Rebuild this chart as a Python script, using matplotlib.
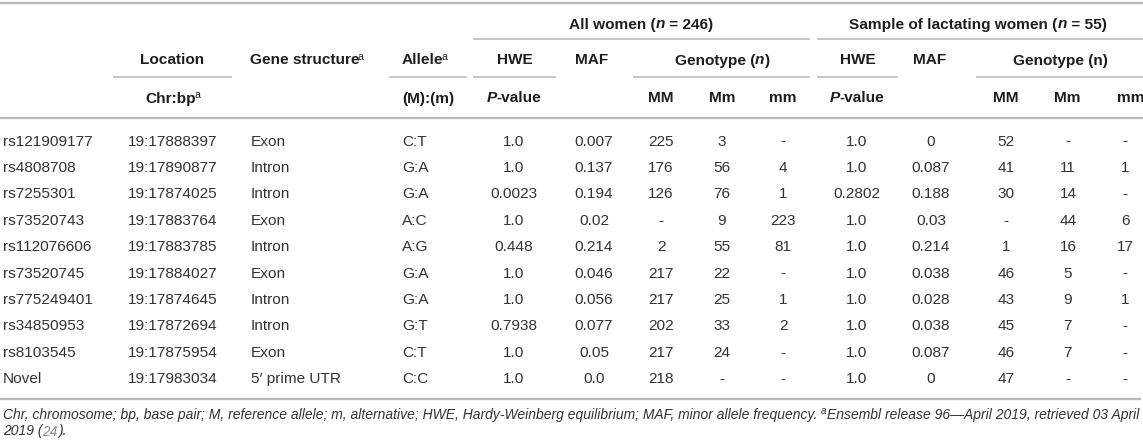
import matplotlib
matplotlib.use("Agg")
import matplotlib.pyplot as plt

# table contents
snp_ids = ["rs121909177", "rs4808708", "rs7255301", "rs73520743", "rs112076606",
           "rs73520745", "rs775249401", "rs34850953", "rs8103545", "Novel"]
locations = ["19:17888397", "19:17890877", "19:17874025", "19:17883764", "19:17883785",
             "19:17884027", "19:17874645", "19:17872694", "19:17875954", "19:17983034"]
gene_structures = ["Exon", "Intron", "Intron", "Exon", "Intron",
                   "Exon", "Intron", "Intron", "Exon", "5\u2032 prime UTR"]
alleles = ["C:T", "G:A", "G:A", "A:C", "A:G", "G:A", "G:A", "G:T", "C:T", "C:C"]
hwe_all = ["1.0", "1.0", "0.0023", "1.0", "0.448", "1.0", "1.0", "0.7938", "1.0", "1.0"]
maf_all = ["0.007", "0.137", "0.194", "0.02", "0.214", "0.046", "0.056", "0.077", "0.05", "0.0"]
MM_all = ["225", "176", "126", "-", "2", "217", "217", "202", "217", "218"]
Mm_all = ["3", "56", "76", "9", "55", "22", "25", "33", "24", "-"]
mm_all = ["-", "4", "1", "223", "81", "-", "1", "2", "-", "-"]
hwe_lact = ["1.0", "1.0", "0.2802", "1.0", "1.0", "1.0", "1.0", "1.0", "1.0", "1.0"]
maf_lact = ["0", "0.087", "0.188", "0.03", "0.214", "0.038", "0.028", "0.038", "0.087", "0"]
MM_lact = ["52", "41", "30", "-", "1", "46", "43", "45", "46", "47"]
Mm_lact = ["-", "11", "14", "44", "16", "5", "9", "7", "7", "-"]
mm_lact = ["-", "1", "-", "6", "17", "-", "1", "-", "-", "-"]

footnote1 = ("Chr, chromosome; bp, base pair; M, reference allele; m, alternative; HWE, "
             "Hardy-Weinberg equilibrium; MAF, minor allele frequency. ")
footnote1b = "Ensembl release 96\u2014April 2019, retrieved 03 April"

W, H = 1143, 447
plt.rcParams['font.family'] = ['Liberation Sans', 'DejaVu Sans']
fig = plt.figure(figsize=(W / 100, H / 100), dpi=100)
ax = fig.add_axes([0, 0, 1, 1])
ax.set_xlim(0, W)
ax.set_ylim(H, 0)
ax.axis('off')
renderer = fig.canvas.get_renderer()

FS = 11.1          # points, ~15.4 px
CAP = 5.5          # half cap height in px
BODY = '#333333'
HEAD = '#1e1e1e'
RULE = '#b8b8b8'


def text_width(s, **kw):
    t = ax.text(0, 0, '|' + s + '|', **kw)
    w1 = t.get_window_extent(renderer).width
    t.remove()
    t = ax.text(0, 0, '||', **kw)
    w2 = t.get_window_extent(renderer).width
    t.remove()
    return w1 - w2


def runs(x, y, parts, ha='center', cap=CAP):
    # parts: list of (string, props, raise_px); raised parts sit a bit closer
    widths = [text_width(s, **kw) for s, kw, _ in parts]
    x0 = x - sum(widths) / 2 if ha == 'center' else x
    prev = ''
    for (s, kw, up), w in zip(parts, widths):
        if up and not prev.endswith(' '):
            x0 -= 1.5
        ax.text(x0, y + cap - up, s, ha='left', va='baseline', **kw)
        x0 += w
        prev = s


hb = dict(fontsize=FS, fontweight='bold', color=HEAD)
hbi = dict(fontsize=FS, fontweight='bold', fontstyle='italic', color=HEAD)
sup = dict(fontsize=7.6, color=HEAD)

# rules
ax.plot([0, W], [3, 3], color=RULE, lw=1.6, solid_capstyle='butt')
ax.plot([0, W], [118, 118], color=RULE, lw=1.6, solid_capstyle='butt')
ax.plot([0, 1141], [399, 399], color=RULE, lw=1.6, solid_capstyle='butt')
for x1, x2, yy in [(473, 810, 39), (817, W, 39),
                   (113, 232, 77), (389, 467, 77), (473, 556, 77),
                   (633, 810, 77), (817, 898, 77), (976, W, 77)]:
    ax.plot([x1, x2], [yy, yy], color=RULE, lw=1.1, solid_capstyle='butt')

# header rows
runs(641, 23, [("All women (", hb, 0), ("n", hbi, 0), (" = 246)", hb, 0)])
runs(978, 23, [("Sample of lactating women (", hb, 0), ("n", hbi, 0), (" = 55)", hb, 0)])

runs(172, 59, [("Location", hb, 0)])
runs(250, 59, [("Gene structure", hb, 0), ("a", sup, 5)], ha='left')
runs(402, 59, [("Allele", hb, 0), ("a", sup, 5)], ha='left')
runs(515, 59, [("HWE", hb, 0)])
runs(592, 59, [("MAF", hb, 0)])
runs(722, 59, [("Genotype (", hb, 0), ("n", hbi, 0), (")", hb, 0)])
runs(858, 59, [("HWE", hb, 0)])
runs(930, 59, [("MAF", hb, 0)])
runs(1060, 59, [("Genotype (n)", hb, 0)])

runs(174, 97, [("Chr:bp", hb, 0), ("a", sup, 5)])
runs(402, 97, [("(M):(m)", hb, 0)], ha='left')
runs(514, 97, [("P", hbi, 0), ("-value", hb, 0)])
runs(857, 97, [("P", hbi, 0), ("-value", hb, 0)])
for xc, lab in [(661, "MM"), (722, "Mm"), (783, "mm"),
                (1006, "MM"), (1067, "Mm"), (1131, "mm")]:
    runs(xc, 97, [(lab, hb, 0)])

# body
left_cols = [(3, snp_ids), (128, locations), (251, gene_structures), (402, alleles)]
center_cols = [(514, hwe_all), (594, maf_all), (661, MM_all), (722, Mm_all), (783, mm_all),
               (857, hwe_lact), (931, maf_lact), (1006, MM_lact), (1068, Mm_lact),
               (1125, mm_lact)]
row_y0, row_dy = 140, 26.4
for i in range(len(snp_ids)):
    yb = row_y0 + i * row_dy + CAP
    for xc, col in left_cols:
        ax.text(xc, yb, col[i], ha='left', va='baseline', fontsize=FS, color=BODY)
    for xc, col in center_cols:
        ax.text(xc, yb, col[i], ha='center', va='baseline', fontsize=FS, color=BODY)

# footnote, scaled to fill the width
fi = dict(fontstyle='italic', color=BODY)
base = 9.0
w_test = (text_width(footnote1, fontsize=base, **fi) + text_width("a", fontsize=base * 0.7, **fi)
          + text_width(footnote1b, fontsize=base, **fi))
ffs = base * 1137 / w_test
fn = dict(fontsize=ffs, **fi)
fs_sup = dict(fontsize=ffs * 0.7, **fi)
runs(3, 414, [(footnote1, fn, 0), ("a", fs_sup, 4), (footnote1b, fn, 0)], ha='left', cap=4.5)
runs(3, 431, [("2019 (", fn, 0), ("24", dict(fontsize=ffs, fontstyle='italic', color='#8c8c8c'), 0),
              (").", fn, 0)], ha='left', cap=4.5)

fig.savefig("out.png", dpi=100)
